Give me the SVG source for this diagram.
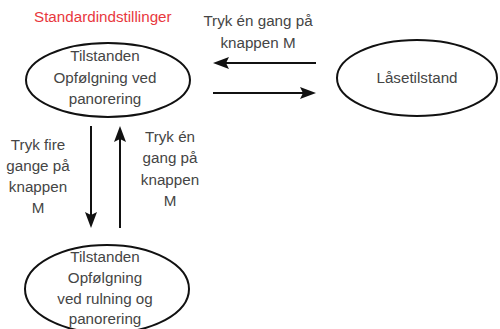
<svg xmlns="http://www.w3.org/2000/svg" width="500" height="329" viewBox="0 0 500 329">
<style>
text{font-family:"Liberation Sans",Arial,sans-serif;font-size:15.2px;fill:#454545;text-anchor:middle}
.red{fill:#e8383d;text-anchor:start}
ellipse{fill:#fff;stroke:#111;stroke-width:2}
.c line{stroke:#111;stroke-width:2}
.c path{fill:#111}
</style>
<rect width="500" height="329" fill="#fff"/>
<text class="red" x="34" y="22">Standardindstillinger</text>
<g id="node-default">
<ellipse cx="108" cy="80" rx="82" ry="37"/>
<text x="105" y="61">Tilstanden</text>
<text x="105" y="83">Opfølgning ved</text>
<text x="105" y="104">panorering</text>
</g>
<g id="node-lock">
<ellipse cx="417" cy="78" rx="80" ry="38"/>
<text x="417" y="83">Låsetilstand</text>
</g>
<g id="node-scroll">
<ellipse cx="107" cy="289" rx="82" ry="44"/>
<text x="105" y="262">Tilstanden</text>
<text x="105" y="283">Opfølgning</text>
<text x="105" y="304">ved rulning og</text>
<text x="105" y="324">panorering</text>
</g>
<g id="connectors" class="c">
<line x1="316" y1="63" x2="225" y2="63"/>
<path d="M213,63 L229,57 L226,63 L229,69 Z"/>
<line x1="213" y1="93" x2="304" y2="93"/>
<path d="M316,93 L300,87 L303,93 L300,99 Z"/>
<line x1="91" y1="126" x2="91" y2="216"/>
<path d="M91,228 L85,212 L91,215 L97,212 Z"/>
<line x1="120" y1="228" x2="120" y2="138"/>
<path d="M120,126 L114,142 L120,139 L126,142 Z"/>
</g>
<g id="labels">
<text x="258" y="26">Tryk én gang på</text>
<text x="258" y="48">knappen M</text>
<text x="38" y="150">Tryk fire</text>
<text x="38" y="171">gange på</text>
<text x="38" y="192">knappen</text>
<text x="38" y="213">M</text>
<text x="170" y="142">Tryk én</text>
<text x="170" y="163">gang på</text>
<text x="170" y="185">knappen</text>
<text x="170" y="206">M</text>
</g>
</svg>
